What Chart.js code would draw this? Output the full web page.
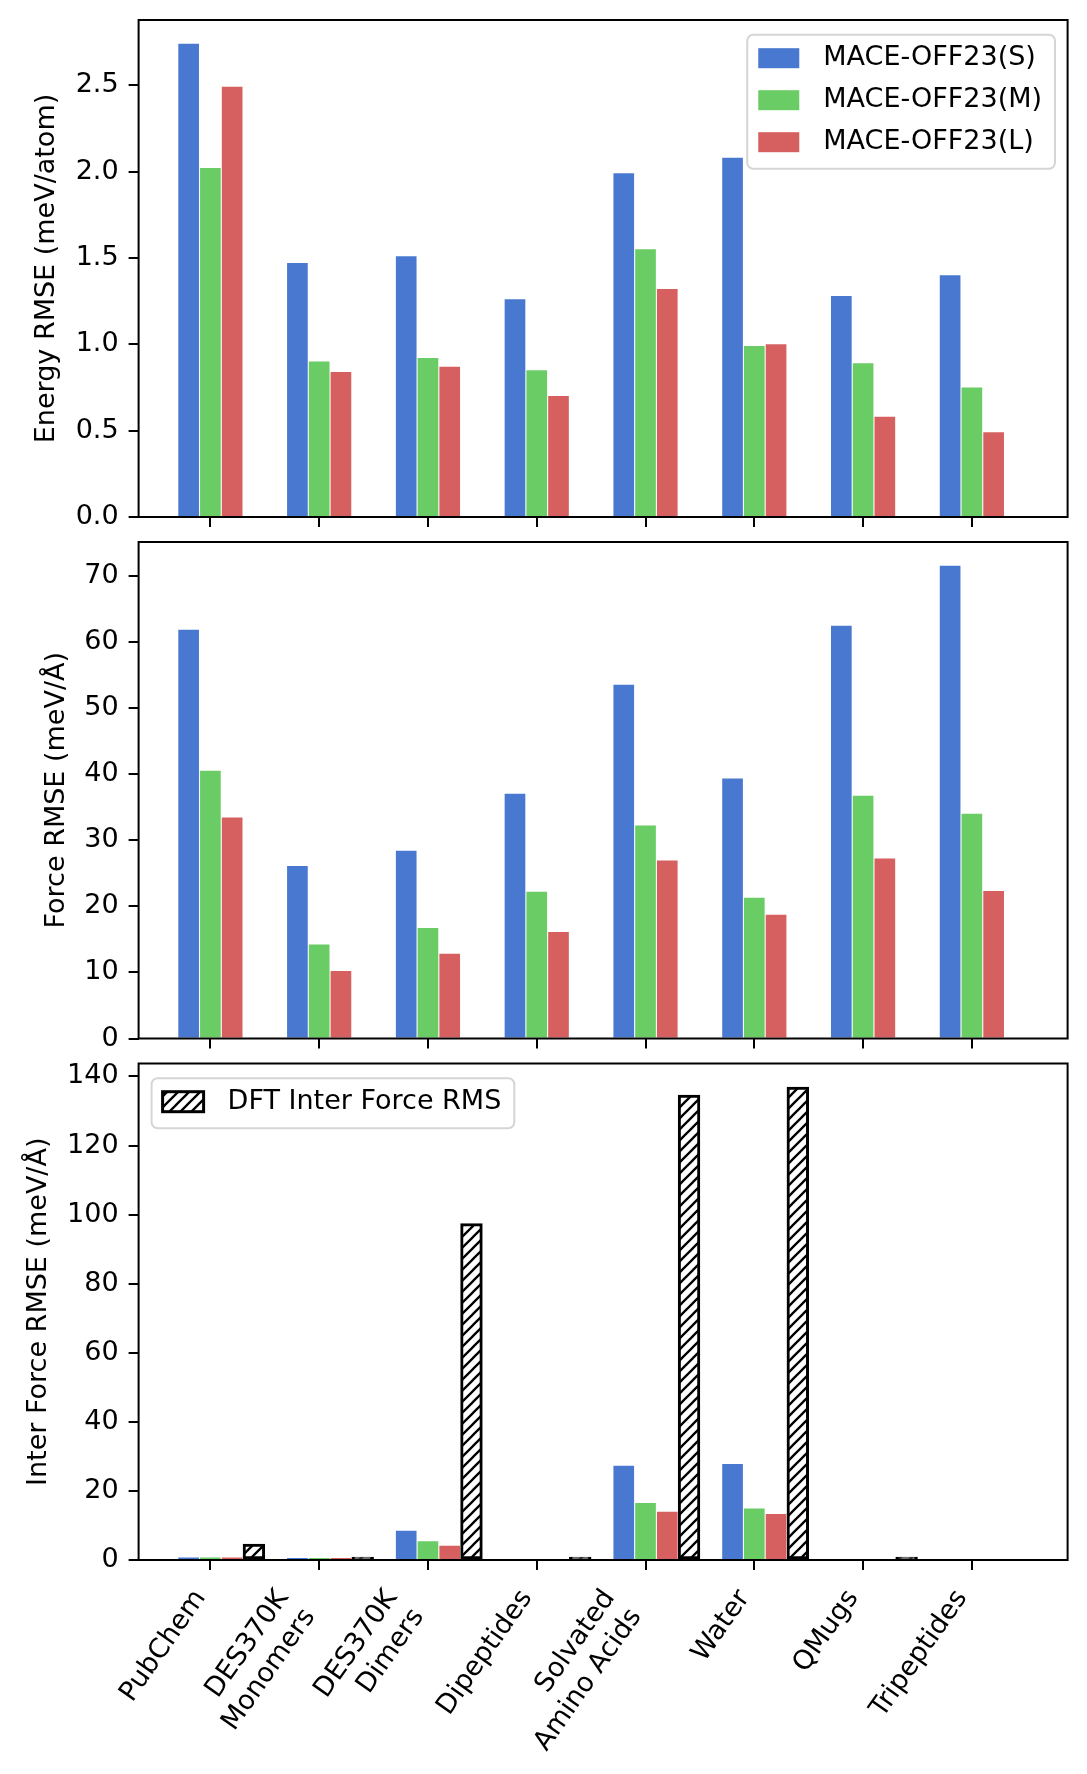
<!DOCTYPE html>
<html>
<head>
<meta charset="utf-8">
<script src="https://cdn.jsdelivr.net/npm/chart.js@4.4.1/dist/chart.umd.min.js"></script>
<style>
  html, body { margin: 0; padding: 0; background: #fff; }
  #wrap { width: 1087px; height: 1774px; }
  canvas { display: block; }
</style>
</head>
<body>
<div id="wrap">
  <canvas id="energyChart" width="1087" height="530"></canvas>
  <canvas id="forceChart" width="1087" height="520"></canvas>
  <canvas id="interChart" width="1087" height="724"></canvas>
</div>
<script>
// Categories and series
const categories = ['PubChem', 'DES370K\nMonomers', 'DES370K\nDimers', 'Dipeptides', 'Solvated\nAmino Acids', 'Water', 'QMugs', 'Tripeptides'];
const modelNames = ['MACE-OFF23(S)', 'MACE-OFF23(M)', 'MACE-OFF23(L)'];
const refName = 'DFT Inter Force RMS';

// Energy RMSE (meV/atom)
const energyS = [2.74, 1.47, 1.51, 1.26, 1.99, 2.08, 1.28, 1.40];
const energyM = [2.02, 0.90, 0.92, 0.85, 1.55, 0.99, 0.89, 0.75];
const energyL = [2.49, 0.84, 0.87, 0.70, 1.32, 1.00, 0.58, 0.49];

// Force RMSE (meV/Å)
const forceS = [61.8, 26.1, 28.4, 37.0, 53.5, 39.3, 62.4, 71.5];
const forceM = [40.5, 14.2, 16.7, 22.2, 32.2, 21.3, 36.7, 34.0];
const forceL = [33.4, 10.2, 12.8, 16.1, 26.9, 18.7, 27.2, 22.3];

// Inter force RMSE (meV/Å) and DFT reference
const interS = [0.7, 0.4, 8.5, null, 27.3, 27.8, null, null];
const interM = [0.7, 0.4, 5.4, null, 16.5, 14.9, null, null];
const interL = [0.7, 0.4, 4.1, null, 14.0, 13.3, null, null];
const dftInter = [4.6, 0.6, 97.4, 0.4, 134.6, 136.9, 0.4, null];

// Tick labels
const energyTicks = [0, 0.5, 1.0, 1.5, 2.0, 2.5];
const forceTicks = [0, 10, 20, 30, 40, 50, 60, 70];
const interTicks = [0, 20, 40, 60, 80, 100, 120, 140];

const barOffsets = [-0.2, 0, 0.2, 0.4];
const colors = ['#4878CF', '#6ACC65', '#D65F5F'];

Chart.defaults.font.family = '"DejaVu Sans", sans-serif';
Chart.defaults.font.size = 27;
Chart.defaults.color = '#000';
Chart.defaults.animation = false;

const xMin = -0.66, xMax = 7.88;
const plotLeft = 138.6;
const padRight = 1087 - 1067.6;

function hatchPattern() {
    const size = 11;
    const c = document.createElement('canvas');
    c.width = size; c.height = size;
    const g = c.getContext('2d');
    g.fillStyle = '#fff';
    g.fillRect(0, 0, size, size);
    g.strokeStyle = '#000';
    g.lineWidth = 2.3;
    g.beginPath();
    g.moveTo(0, size); g.lineTo(size, 0);
    g.moveTo(-size / 2, size / 2); g.lineTo(size / 2, -size / 2);
    g.moveTo(size / 2, size * 1.5); g.lineTo(size * 1.5, size / 2);
    g.stroke();
    return g.createPattern(c, 'repeat');
}
const hatch = hatchPattern();

function points(values, offset) {
    return values.map((v, i) => ({ x: i + offset, y: v }));
}

function modelSets(s, m, l) {
    return [s, m, l].map((vals, k) => ({
        label: modelNames[k],
        data: points(vals, barOffsets[k]),
        backgroundColor: colors[k],
        borderWidth: 0,
        grouped: false,
        categoryPercentage: 1,
        barPercentage: 0.95
    }));
}

// Draw the full axes frame
const frame = {
    id: 'frame',
    afterDatasetsDraw(chart) {
        const { ctx, chartArea: a } = chart;
        ctx.save();
        ctx.strokeStyle = '#000';
        ctx.lineWidth = 2;
        ctx.strokeRect(a.left, a.top, a.right - a.left, a.bottom - a.top);
        ctx.restore();
    }
};

// Legend drawn inside the plot area
function drawLegend(chart, items, align) {
    const { ctx, chartArea } = chart;
    ctx.save();
    ctx.font = '27px "DejaVu Sans"';
    const textW = Math.max(...items.map(d => ctx.measureText(d.label).width));
    const w = 11 + 41 + 24 + textW + 13;
    const h = 50 + (items.length - 1) * 42;
    const x = align === 'right' ? chartArea.right - 12.6 - w : chartArea.left + 13;
    const y = chartArea.top + 14.7;
    ctx.beginPath();
    ctx.roundRect(x, y, w, h, 6);
    ctx.fillStyle = 'rgba(255,255,255,0.85)';
    ctx.fill();
    ctx.strokeStyle = '#d5d5d5';
    ctx.lineWidth = 2;
    ctx.stroke();
    items.forEach((d, i) => {
        const cy = y + 23.5 + i * 42;
        ctx.fillStyle = d.backgroundColor;
        ctx.fillRect(x + 11, cy - 10, 41, 20);
        if (d.borderWidth) {
            ctx.strokeStyle = d.borderColor;
            ctx.lineWidth = 3;
            ctx.strokeRect(x + 11, cy - 10, 41, 20);
        }
        ctx.fillStyle = '#000';
        ctx.textAlign = 'left';
        ctx.textBaseline = 'middle';
        ctx.fillText(d.label, x + 11 + 41 + 24, cy);
    });
    ctx.restore();
}

const innerLegend = {
    id: 'innerLegend',
    afterDraw(chart, args, opts) {
        if (!opts.align) return;
        const items = chart.data.datasets.filter(d => !d.hideInLegend);
        drawLegend(chart, items, opts.align);
    }
};

// Right-align multi-line rotated labels like matplotlib
const tickShift = {
    id: 'tickShift',
    beforeDraw(chart) {
        const scale = chart.scales.x;
        if (!scale.options.ticks.display) return;
        scale.getLabelItems().forEach(item => {
            if (item._shifted) return;
            item._shifted = true;
            const n = Array.isArray(item.label) ? item.label.length : 1;
            item.options.translation[0] -= 10 + (n - 1) * 26;
        });
    }
};

function makeOptions(o) {
    const tickGrid = { display: true, offset: false, drawOnChartArea: false, drawTicks: true, tickLength: 10, color: '#000', lineWidth: 2 };
    return {
        responsive: false,
        events: [],
        layout: { padding: { top: o.top, left: 0, right: padRight, bottom: 0 } },
        plugins: {
            legend: { display: false },
            tooltip: { enabled: false },
            innerLegend: { align: o.legendAlign }
        },
        scales: {
            x: {
                type: 'linear',
                min: xMin,
                max: xMax,
                offset: false,
                grid: tickGrid,
                border: { display: false },
                ticks: {
                    display: o.showLabels,
                    autoSkip: false,
                    minRotation: 55,
                    maxRotation: 55,
                    padding: 14,
                    callback: v => (categories[v] !== undefined ? categories[v].split('\n') : '')
                },
                afterBuildTicks: s => { s.ticks = categories.map((c, i) => ({ value: i })); },
                afterFit: s => { s.height = o.xHeight; s.paddingLeft = 0; s.paddingRight = 0; }
            },
            y: {
                type: 'linear',
                min: 0,
                max: o.yMax,
                grid: tickGrid,
                border: { display: false },
                ticks: { padding: 10, callback: o.fmt },
                title: { display: true, text: o.title, padding: { top: o.titlePad, bottom: 0 } },
                afterBuildTicks: s => { s.ticks = o.ticks.map(v => ({ value: v })); },
                afterFit: s => { s.width = plotLeft; s.paddingTop = 0; s.paddingBottom = 0; }
            }
        }
    };
}

function maxOf(...arrs) {
    return Math.max(...arrs.flat().filter(v => v !== null));
}

new Chart(document.getElementById('energyChart'), {
    type: 'bar',
    data: { datasets: modelSets(energyS, energyM, energyL) },
    options: makeOptions({
        top: 20, xHeight: 13, showLabels: false, legendAlign: 'right',
        yMax: maxOf(energyS, energyM, energyL) * 1.05,
        ticks: energyTicks, fmt: v => v.toFixed(1),
        title: 'Energy RMSE (meV/atom)', titlePad: 31
    }),
    plugins: [frame, innerLegend]
});

new Chart(document.getElementById('forceChart'), {
    type: 'bar',
    data: { datasets: modelSets(forceS, forceM, forceL) },
    options: makeOptions({
        top: 12, xHeight: 11.5, showLabels: false, legendAlign: null,
        yMax: maxOf(forceS, forceM, forceL) * 1.05,
        ticks: forceTicks, fmt: v => v,
        title: 'Force RMSE (meV/Å)', titlePad: 41
    }),
    plugins: [frame]
});

const interSets = modelSets(interS, interM, interL);
interSets.forEach(d => { d.hideInLegend = true; d.minBarLength = 2; });
new Chart(document.getElementById('interChart'), {
    type: 'bar',
    data: {
        datasets: [...interSets, {
            label: refName,
            data: points(dftInter, barOffsets[3]),
            backgroundColor: hatch,
            borderColor: '#000',
            borderWidth: 3,
            borderSkipped: false,
            minBarLength: 3,
            grouped: false,
            categoryPercentage: 1,
            barPercentage: 1
        }]
    },
    options: makeOptions({
        top: 13.5, xHeight: 214, showLabels: true, legendAlign: 'left',
        yMax: maxOf(interS, interM, interL, dftInter) * 1.05,
        ticks: interTicks, fmt: v => v,
        title: 'Inter Force RMSE (meV/Å)', titlePad: 23
    }),
    plugins: [frame, tickShift, innerLegend]
});
</script>
</body>
</html>
